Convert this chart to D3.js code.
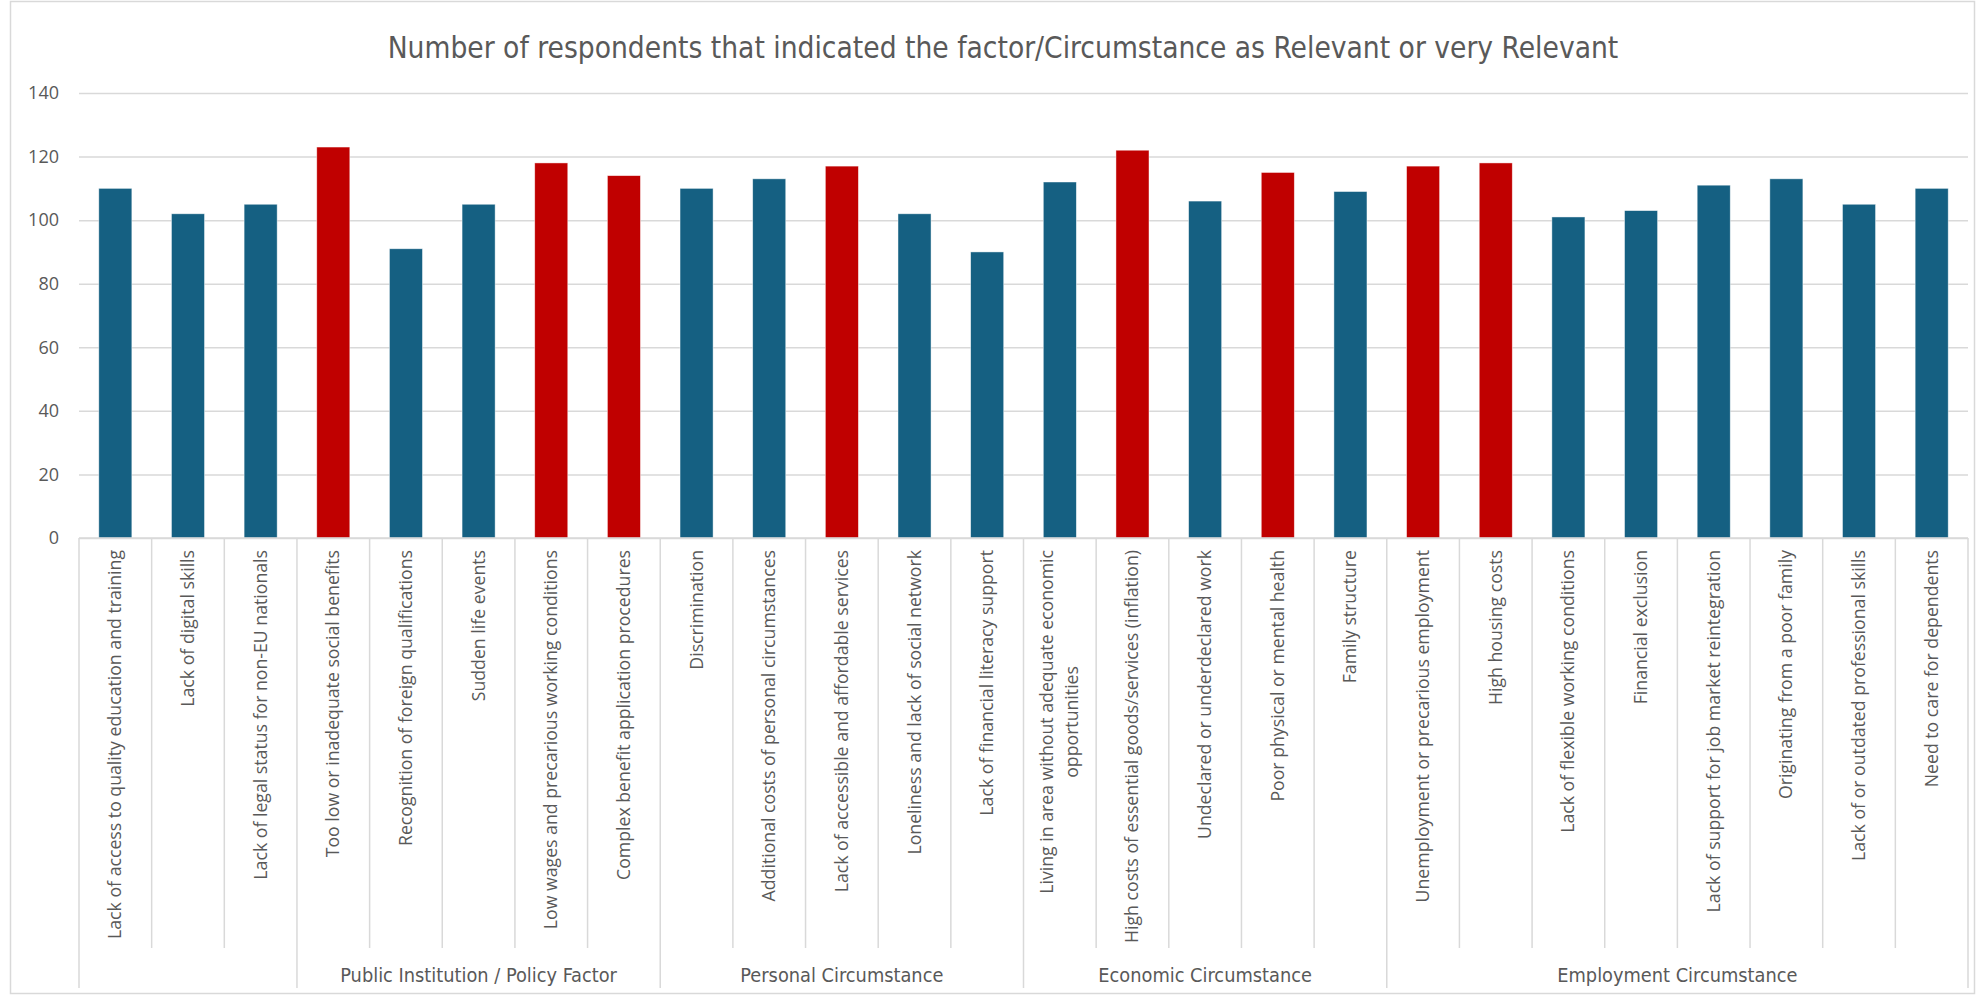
<!DOCTYPE html>
<html>
<head>
<meta charset="utf-8">
<script src="https://cdn.jsdelivr.net/npm/d3@7"></script>
<style>
  body { margin: 0; background: #ffffff; }
  svg { display: block; }
  .narrow { font-family: "Liberation Sans Narrow", "Arial Narrow", "DejaVu Sans Condensed", sans-serif; }
  .label { font-family: "Open Sans", "Noto Sans", sans-serif; }
</style>
</head>
<body>
<script>
// Data
var categories = [
  "Lack of access to quality education and training",
  "Lack of digital skills",
  "Lack of legal status for non-EU nationals",
  "Too low or inadequate social benefits",
  "Recognition of foreign qualifications",
  "Sudden life events",
  "Low wages and precarious working conditions",
  "Complex benefit application procedures",
  "Discrimination",
  "Additional costs of personal circumstances",
  "Lack of accessible and affordable services",
  "Loneliness and lack of social network",
  "Lack of financial literacy support",
  "Living in area without adequate economic opportunities",
  "High costs of essential goods/services (inflation)",
  "Undeclared or underdeclared work",
  "Poor physical or mental health",
  "Family structure",
  "Unemployment or precarious employment",
  "High housing costs",
  "Lack of flexible working conditions",
  "Financial exclusion",
  "Lack of support for job market reintegration",
  "Originating from a poor family",
  "Lack of or outdated professional skills",
  "Need to care for dependents"
];
var values = [110, 102, 105, 123, 91, 105, 118, 114, 110, 113, 117, 102, 90,
              112, 122, 106, 115, 109, 117, 118, 101, 103, 111, 113, 105, 110];
// 1 = highlighted (red) bar
var highlighted = [0, 0, 0, 1, 0, 0, 1, 1, 0, 0, 1, 0, 0,
                   0, 1, 0, 1, 0, 1, 1, 0, 0, 0, 0, 0, 0];
var groupNames = ["", "Public Institution / Policy Factor", "Personal Circumstance",
                  "Economic Circumstance", "Employment Circumstance"];
var groupSizes = [3, 5, 5, 5, 8];
var yTicks = [0, 20, 40, 60, 80, 100, 120, 140];
var title = "Number of respondents that indicated the factor/Circumstance as Relevant or very Relevant";

window.onload = function() {
  var width = 1977, height = 996;
  var margin = {top: 93, right: 9, bottom: 458, left: 79};
  var plotW = width - margin.left - margin.right,
      plotH = height - margin.top - margin.bottom;

  var textColor = "#595959", gridColor = "#d9d9d9";
  var blue = "#156082", red = "#c00000";

  var svg = d3.select("body").append("svg")
              .attr("width", width)
              .attr("height", height);

  // chart area border
  svg.append("rect")
     .attr("x", 10.5).attr("y", 1.5)
     .attr("width", width - 13).attr("height", height - 4)
     .attr("fill", "none")
     .attr("stroke", gridColor)
     .attr("stroke-width", 1.5);

  svg.append("text")
     .attr("class", "narrow")
     .attr("x", 1003)
     .attr("y", 58)
     .attr("text-anchor", "middle")
     .attr("font-size", 29.6)
     .attr("fill", textColor)
     .text(title);

  var g = svg.append("g")
             .attr("transform", "translate(" + margin.left + "," + margin.top + ")");

  var x = d3.scaleBand()
            .domain(categories)
            .range([0, plotW])
            .paddingInner(0.545)
            .paddingOuter(0.2725);
  var xCell = d3.scaleBand().domain(categories).range([0, plotW]).padding(0);

  var y = d3.scaleLinear().domain([0, 140]).range([plotH, 0]);

  // gridlines + y labels
  var yAxis = d3.axisLeft(y)
                .tickValues(yTicks)
                .tickSize(-plotW)
                .tickPadding(20);
  g.append("g")
   .attr("class", "y-axis")
   .call(yAxis)
   .call(function(ax) {
     ax.select(".domain").remove();
     ax.selectAll(".tick line").attr("stroke", gridColor).attr("stroke-width", 1.5);
     ax.selectAll(".tick text")
       .attr("class", "label")
       .attr("font-size", 18)
       .attr("fill", textColor);
   });

  // bars
  g.selectAll(".bar")
   .data(categories)
   .enter()
   .append("rect")
   .attr("class", "bar")
   .attr("x", function(d) { return x(d); })
   .attr("width", x.bandwidth())
   .attr("y", function(d, i) { return y(values[i]); })
   .attr("height", function(d, i) { return plotH - y(values[i]); })
   .attr("fill", function(d, i) { return highlighted[i] ? red : blue; })
   .attr("stroke", "#ffffff")
   .attr("stroke-opacity", 0.6)
   .attr("stroke-width", 0.75);

  // x axis line
  g.append("line")
   .attr("x1", 0).attr("x2", plotW)
   .attr("y1", plotH).attr("y2", plotH)
   .attr("stroke", gridColor)
   .attr("stroke-width", 1.5);

  // category dividers
  var catBottom = 410, groupBottom = 450;
  var boundaries = [];
  var cum = 0;
  groupSizes.forEach(function(n) { boundaries.push(cum); cum += n; });
  boundaries.push(cum);

  d3.range(categories.length + 1).forEach(function(i) {
    var isGroup = boundaries.indexOf(i) >= 0;
    g.append("line")
     .attr("x1", i * xCell.step()).attr("x2", i * xCell.step())
     .attr("y1", plotH).attr("y2", plotH + (isGroup ? groupBottom : catBottom))
     .attr("stroke", gridColor)
     .attr("stroke-width", 1.5);
  });

  // rotated category labels, wrapped like Excel
  var maxLen = 400, lineGap = 25;
  categories.forEach(function(c, i) {
    var cx = xCell(c) + xCell.step() / 2;
    var t = g.append("text")
             .attr("class", "label")
             .attr("font-size", 17.7)
             .attr("fill", textColor)
             .attr("text-anchor", "middle");
    var words = c.split(" "), lines = [], line = [];
    var probe = t.append("tspan");
    words.forEach(function(w) {
      line.push(w);
      probe.text(line.join(" "));
      if (probe.node().getComputedTextLength() > maxLen && line.length > 1) {
        line.pop();
        lines.push(line.join(" "));
        line = [w];
      }
    });
    lines.push(line.join(" "));
    probe.remove();

    var widths = lines.map(function(l) {
      var s = t.append("tspan").text(l);
      var wd = s.node().getComputedTextLength();
      s.remove();
      return wd;
    });
    var block = d3.max(widths);
    var midY = plotH + 12 + block / 2;
    t.attr("transform", "translate(" + cx + "," + midY + ") rotate(-90)");
    lines.forEach(function(l, k) {
      t.append("tspan")
       .attr("x", 0)
       .attr("y", (k - (lines.length - 1) / 2) * lineGap + 6)
       .text(l);
    });
  });

  // group labels
  groupNames.forEach(function(name, k) {
    var x0 = boundaries[k] * xCell.step(), x1 = boundaries[k + 1] * xCell.step();
    g.append("text")
     .attr("class", "narrow")
     .attr("x", (x0 + x1) / 2)
     .attr("y", plotH + 444)
     .attr("text-anchor", "middle")
     .attr("font-size", 19.8)
     .attr("fill", textColor)
     .text(name);
  });
};
</script>
</body>
</html>
